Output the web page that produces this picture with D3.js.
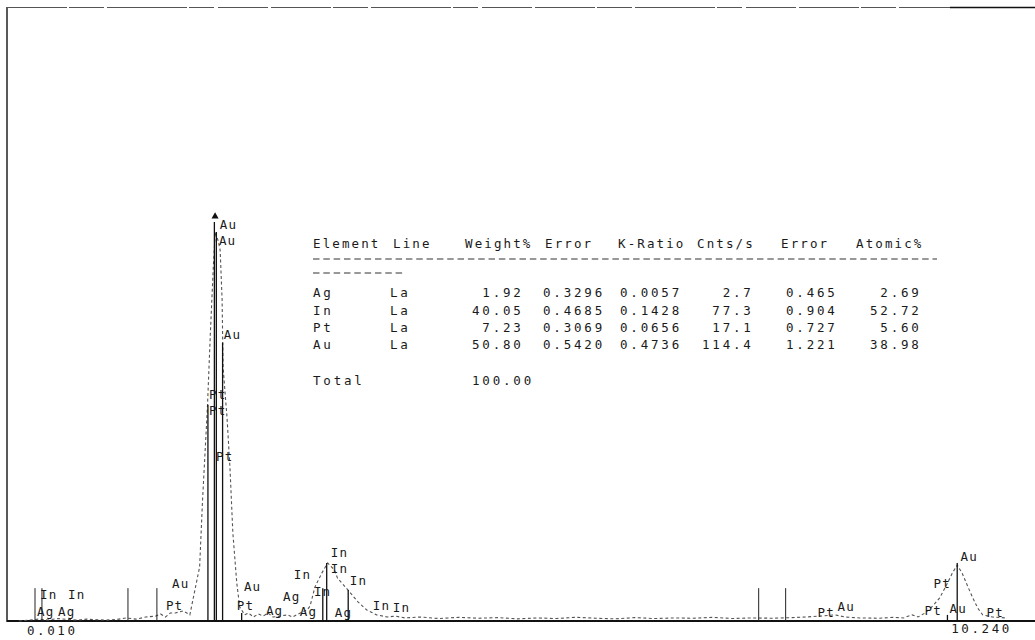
<!DOCTYPE html>
<html>
<head>
<meta charset="utf-8">
<script src="https://cdn.jsdelivr.net/npm/d3@7/dist/d3.min.js"></script>
<style>
  html, body { margin: 0; padding: 0; background: #fff; }
  svg { display: block; }
  text { font-family: "DejaVu Sans Mono", "Liberation Mono", monospace; fill: #1a1a1a; white-space: pre; }
</style>
</head>
<body>
<svg id="chart" width="1035" height="640"></svg>
<script>
// ---------------- DATA ----------------
// EDS spectrum (energy keV, counts)
const energyKeV = [0.10,0.20,0.30,0.40,0.50,0.60,0.70,0.80,0.90,1.00,1.10,1.20,1.30,1.40,1.50,1.55,1.60,1.65,1.70,1.78,1.85,
  1.90,1.95,1.98,2.03,2.06,2.09,2.11,2.14,2.16,2.18,2.19,2.23,2.26,2.29,2.33,2.36,2.41,2.45,2.50,2.55,2.60,2.65,2.70,2.77,2.85,2.90,2.98,
  3.05,3.08,3.13,3.20,3.26,3.33,3.36,3.44,3.51,3.57,3.66,3.76,3.87,3.95,4.05,4.20,4.40,4.60,4.80,5.00,5.20,5.40,5.60,5.80,6.00,6.20,6.40,6.60,
  6.80,7.00,7.20,7.40,7.60,7.80,8.00,8.15,8.30,8.45,8.55,8.70,8.90,9.05,9.15,9.24,9.30,9.37,9.45,9.52,9.59,9.65,9.70,9.75,9.81,9.86,9.91,9.96,10.06,10.20];
const counts = [0,3,6,3,8,5,3,6,4,3,5,10,6,13,16,23,13,26,26,33,20,
  98,176,394,697,938,1153,1267,1238,1208,1046,827,664,502,287,124,46,20,26,13,23,16,26,13,16,20,13,26,
  36,49,111,156,189,166,140,111,85,62,36,20,13,16,10,13,8,12,9,11,7,10,8,12,9,7,11,8,
  10,9,12,8,10,9,11,13,16,20,13,10,9,12,10,20,13,26,49,75,117,156,182,156,111,75,42,20,13,10];

// KLM marker lines (energy keV, marker height in counts)
const markerEnergy = [2.035, 2.101, 2.121, 2.185, 2.380, 3.210, 3.250, 3.470, 9.600, 9.700];
const markerHeight = [704, 1300, 1267, 906, 26, 107, 189, 101, 20, 189];

// region-of-interest cursor lines
const roiEnergy = [0.266, 0.337, 1.217, 1.513, 7.669, 7.945];
const roiHeight = [107, 107, 107, 107, 107, 107];

// element labels on the spectrum
const labelText   = ["In","In","Ag","Ag","Au","Pt","Au","Au","Au","Pt","Pt","Pt","Au","Pt","Ag","Ag","Ag","In","In","In","In","In","Ag","In","In","Pt","Au","Pt","Pt","Au","Au","Pt"];
const labelEnergy = [0.317,0.603,0.286,0.501,1.667,1.605,2.157,2.147,2.198,2.045,2.045,2.117,2.403,2.331,2.628,2.802,2.975,2.914,3.292,3.292,3.487,3.119,3.333,3.722,3.926,8.272,8.476,9.366,9.458,9.734,9.622,9.999];
const labelCounts = [72,72,16,16,107,36,1277,1225,919,722,671,521,98,36,20,65,16,137,208,156,117,81,13,36,29,13,33,20,107,195,26,13];

// energy range tick labels
const rangeEnergy = [0.010, 10.240];
const rangeLabels = ["0.010", "10.240"];

// quantification table
const headers  = ["Element","Line","Weight%","Error","K-Ratio","Cnts/s","Error","Atomic%"];
const elements = ["Ag","In","Pt","Au"];
const lines    = ["La","La","La","La"];
const weightPct = ["1.92","40.05","7.23","50.80"];
const weightErr = ["0.3296","0.4685","0.3069","0.5420"];
const kRatio    = ["0.0057","0.1428","0.0656","0.4736"];
const cntsPerS  = ["2.7","77.3","17.1","114.4"];
const cntsErr   = ["0.465","0.904","0.727","1.221"];
const atomicPct = ["2.69","52.72","5.60","38.98"];
const totalLabel = "Total";
const totalWeight = "100.00";

// ---------------- DRAW ----------------
const svg = d3.select("#chart");
const x = d3.scaleLinear().domain([0, 10.24]).range([9, 1010]);
const y = d3.scaleLinear().domain([0, 2000]).range([621, 7]);

// frame
svg.append("line").attr("x1", 7).attr("x2", 7).attr("y1", 7).attr("y2", 622)
  .attr("stroke", "#222").attr("stroke-width", 1.5);
svg.append("line").attr("x1", 7).attr("x2", 950).attr("y1", 7.5).attr("y2", 7.5)
  .attr("stroke", "#555").attr("stroke-width", 1).attr("stroke-dasharray", "60,2,35,3,80,2,25,4,50,3");
svg.append("line").attr("x1", 950).attr("x2", 1035).attr("y1", 7.5).attr("y2", 7.5)
  .attr("stroke", "#111").attr("stroke-width", 1.5);

// baseline axis
svg.append("line").attr("x1", 7).attr("x2", 1035).attr("y1", 621).attr("y2", 621)
  .attr("stroke", "#111").attr("stroke-width", 2);

// spectrum
const spec = energyKeV.map((e, i) => [e, counts[i]]);
svg.append("path").datum(spec)
  .attr("d", d3.line().x(d => x(d[0])).y(d => y(d[1])))
  .attr("fill", "none").attr("stroke", "#555").attr("stroke-width", 1.1)
  .attr("stroke-dasharray", "3,2.5");

// ROI cursor lines
svg.append("g").selectAll("line").data(roiEnergy).join("line")
  .attr("x1", d => x(d)).attr("x2", d => x(d))
  .attr("y1", y(0)).attr("y2", (d, i) => y(roiHeight[i]))
  .attr("stroke", "#222").attr("stroke-width", 1);

// KLM marker lines
svg.append("g").selectAll("line").data(markerEnergy).join("line")
  .attr("x1", d => x(d)).attr("x2", d => x(d))
  .attr("y1", y(0)).attr("y2", (d, i) => y(markerHeight[i]))
  .attr("stroke", "#111").attr("stroke-width", 1.3);

// arrow at top of main Au peak
svg.append("path")
  .attr("d", d3.symbol(d3.symbolTriangle, 22)())
  .attr("transform", `translate(${x(2.108)},${y(1318)})`)
  .attr("fill", "#111");

// element labels
svg.append("g").selectAll("text").data(labelText).join("text")
  .attr("x", (d, i) => x(labelEnergy[i]))
  .attr("y", (d, i) => y(labelCounts[i]))
  .attr("font-size", 12.5)
  .attr("letter-spacing", 1.2)
  .text(d => d);

// range labels
svg.append("text").attr("x", x(rangeEnergy[0]) + 17).attr("y", 635)
  .attr("font-size", 12.5).attr("letter-spacing", 2.6).text(rangeLabels[0]);
svg.append("text").attr("x", x(rangeEnergy[1]) + 2).attr("y", 633)
  .attr("font-size", 12.5).attr("letter-spacing", 2.6).attr("text-anchor", "end").text(rangeLabels[1]);

// ---------------- TABLE ----------------
const T = svg.append("g").attr("font-size", 12.5).attr("letter-spacing", 2.8);
const pitch = 12.5 * 0.602 + 2.8;
const headerX = [313, 393, 465, 545, 618, 697, 781, 856];
T.selectAll("text.h").data(headers).join("text").attr("class", "h")
  .attr("x", (d, i) => headerX[i]).attr("y", 247.5)
  .attr("letter-spacing", 2.1)
  .text(d => d);

// dashed separator (wraps onto next line)
T.append("line").attr("x1", 313).attr("x2", 937).attr("y1", 259).attr("y2", 259)
  .attr("stroke", "#333").attr("stroke-width", 1.1).attr("stroke-dasharray", `6.5,${pitch - 6.5}`);
T.append("line").attr("x1", 313).attr("x2", 313 + 9 * pitch).attr("y1", 273).attr("y2", 273)
  .attr("stroke", "#333").attr("stroke-width", 1.1).attr("stroke-dasharray", `6.5,${pitch - 6.5}`);

const rowY = [297, 314.5, 331.5, 348.5];
const pad = (s, n) => s.padStart(n, " ");
const cols = [
  {vals: elements, x: 313, w: 0},
  {vals: lines, x: 390, w: 0},
  {vals: weightPct, x: 472, w: 5},
  {vals: weightErr, x: 543, w: 6},
  {vals: kRatio, x: 620, w: 6},
  {vals: cntsPerS, x: 702, w: 5},
  {vals: cntsErr, x: 786, w: 5},
  {vals: atomicPct, x: 870, w: 5}
];
cols.forEach(c => {
  T.append("g").selectAll("text").data(c.vals).join("text")
    .attr("x", c.x).attr("y", (d, i) => rowY[i])
    .text(d => c.w ? pad(d, c.w) : d);
});
T.append("text").attr("x", 313).attr("y", 384.5).text(totalLabel);
T.append("text").attr("x", 472).attr("y", 384.5).text(totalWeight);
</script>
</body>
</html>
